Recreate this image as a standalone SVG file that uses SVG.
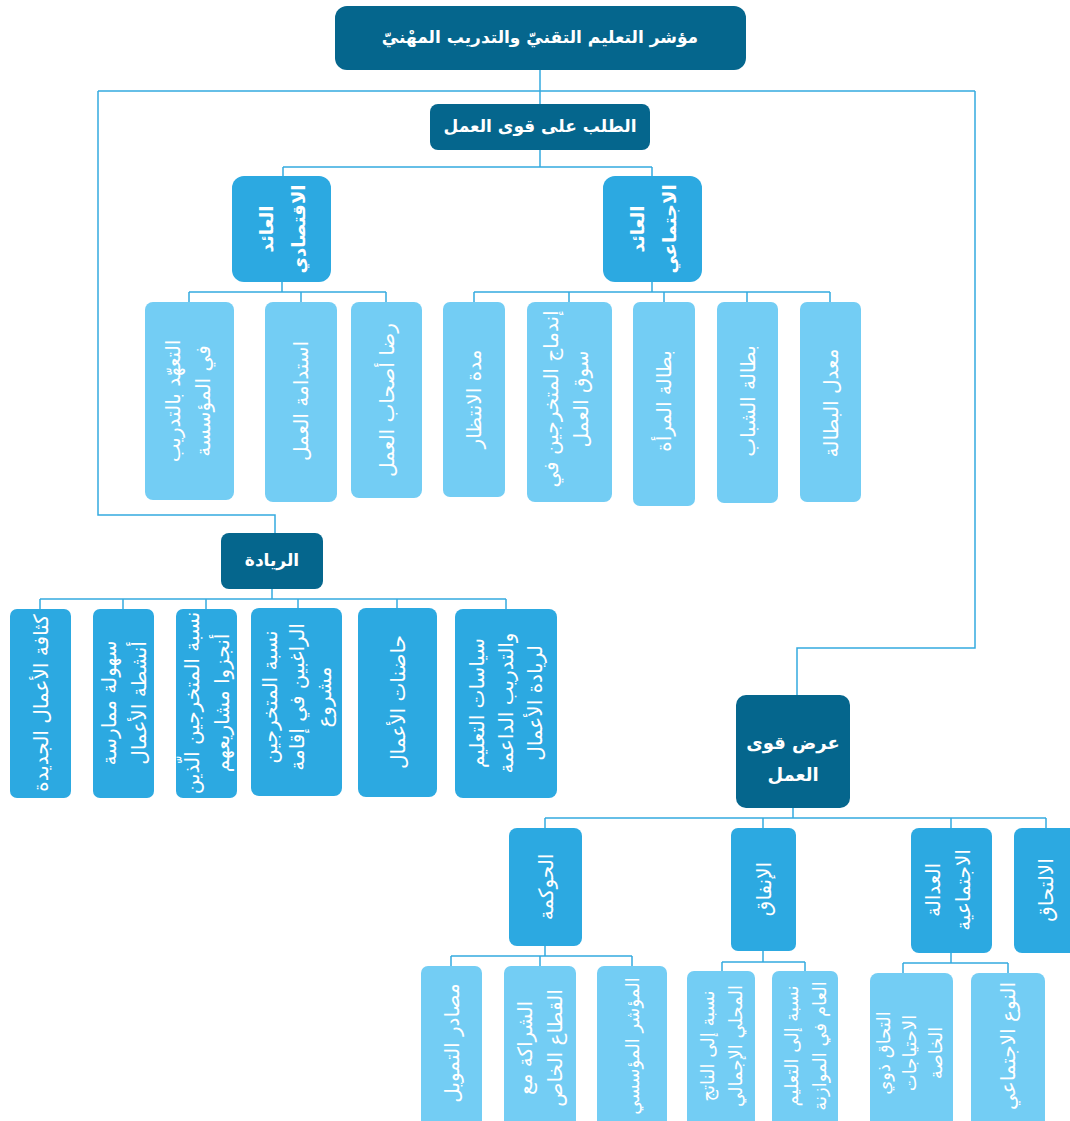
<svg xmlns="http://www.w3.org/2000/svg" width="1070" height="1121" viewBox="0 0 1070 1121">
<style>
.dark{fill:#05668d}
.mid{fill:#2ca9e1}
.light{fill:#73cdf4}
text{font-family:"DejaVu Sans",sans-serif;fill:#ffffff;text-anchor:middle;dominant-baseline:central}
.t{font-size:17px;font-weight:bold}
.t2{font-size:18px;font-weight:bold}
.s{font-size:20px}
.s2{font-size:18px}
.sb{font-size:18px;font-weight:bold}
.conn{fill:none;stroke:#35aadf;stroke-width:1.5}
</style>
<rect width="1070" height="1121" fill="#ffffff"/>
<g id="connectors" class="conn">
<path d="M540 70V104M98 91H975M98 91V515H275V533M975 91V648H797V695"/>
<path d="M540 150V167M283 167H652M283 167V176M652 167V176"/>
<path d="M282 282V292M189 292H386M189 292V302M301 292V302M386 292V302"/>
<path d="M652 282V292M474 292H830M474 292V302M569 292V302M664 292V302M747 292V302M830 292V302"/>
<path d="M272 589V599M40 599H506M40 599V609M123 599V609M206 599V609M298 599V609M397 599V609M506 599V609"/>
<path d="M793 808V818M545 818H1046M545 818V828M763 818V828M951 818V828M1046 818V828"/>
<path d="M545 946V956M451 956H632M451 956V966M540 956V966M632 956V966"/>
<path d="M763 951V962M722 962H805M722 962V971M805 962V971"/>
<path d="M951 953V963M903 963H1008M903 963V973M1008 963V973"/>
</g>
<g id="n-root"><rect class="dark" x="335" y="6" width="411" height="64" rx="12"/><text class="t" x="540" y="37">مؤشر التعليم التقنيّ والتدريب المهْنيّ</text></g>
<g id="n-demand"><rect class="dark" x="430" y="104" width="220" height="46" rx="8"/><text class="t" x="540" y="126">الطلب على قوى العمل</text></g>
<g id="n-econ"><rect class="mid" x="232" y="176" width="99" height="106" rx="12"/><text class="sb" transform="translate(281.5,229) rotate(-90)"><tspan x="0" dy="-16">العائد</tspan><tspan x="0" dy="32">الاقتصادي</tspan></text></g>
<g id="n-social"><rect class="mid" x="603" y="176" width="99" height="106" rx="12"/><text class="sb" transform="translate(652.5,229) rotate(-90)"><tspan x="0" dy="-16">العائد</tspan><tspan x="0" dy="32">الاجتماعي</tspan></text></g>
<g id="n-e1"><rect class="light" x="145" y="302" width="89" height="198" rx="8"/><text class="s" transform="translate(188,401) rotate(-90)"><tspan x="0" dy="-15">التعهّد بالتدريب</tspan><tspan x="0" dy="30">في المؤسسة</tspan></text></g>
<g id="n-e2"><rect class="light" x="265" y="302" width="72" height="200" rx="8"/><text class="s" transform="translate(301,401) rotate(-90)">استدامة العمل</text></g>
<g id="n-e3"><rect class="light" x="351" y="302" width="71" height="196" rx="8"/><text class="s" transform="translate(386.5,400) rotate(-90)">رضا أصحاب العمل</text></g>
<g id="n-s1"><rect class="light" x="443" y="302" width="62" height="195" rx="7"/><text class="s" transform="translate(474,399) rotate(-90)">مدة الانتظار</text></g>
<g id="n-s2"><rect class="light" x="527" y="302" width="85" height="200" rx="8"/><text class="s" transform="translate(566,399) rotate(-90)"><tspan x="0" dy="-15">إندماج المتخرجين في</tspan><tspan x="0" dy="30">سوق العمل</tspan></text></g>
<g id="n-s3"><rect class="light" x="633" y="302" width="62" height="204" rx="7"/><text class="s" transform="translate(664,401) rotate(-90)">بطالة المرأة</text></g>
<g id="n-s4"><rect class="light" x="717" y="302" width="61" height="201" rx="7"/><text class="s" transform="translate(747.5,401) rotate(-90)">بطالة الشباب</text></g>
<g id="n-s5"><rect class="light" x="800" y="302" width="61" height="200" rx="7"/><text class="s" transform="translate(830.5,403) rotate(-90)">معدل البطالة</text></g>
<g id="n-riyada"><rect class="dark" x="221" y="533" width="102" height="56" rx="8"/><text class="t" x="272" y="560">الريادة</text></g>
<g id="n-r1"><rect class="mid" x="10" y="609" width="61" height="189" rx="7"/><text class="s" transform="translate(40.5,703) rotate(-90)">كثافة الأعمال الجديدة</text></g>
<g id="n-r2"><rect class="mid" x="93" y="609" width="61" height="189" rx="7"/><text class="s" transform="translate(123.5,703) rotate(-90)"><tspan x="0" dy="-15">سهولة ممارسة</tspan><tspan x="0" dy="30">أنشطة الأعمال</tspan></text></g>
<g id="n-r3"><rect class="mid" x="176" y="609" width="61" height="189" rx="7"/><text class="s" transform="translate(206.5,703) rotate(-90)"><tspan x="0" dy="-15">نسبة المتخرجين الّذين</tspan><tspan x="0" dy="30">أنجزوا مشاريعهم</tspan></text></g>
<g id="n-r4"><rect class="mid" x="251" y="608" width="91" height="188" rx="8"/><text class="s" transform="translate(297,697) rotate(-90)"><tspan x="0" dy="-27">نسبة المتخرجين</tspan><tspan x="0" dy="27">الراغبين في إقامة</tspan><tspan x="0" dy="27">مشروع</tspan></text></g>
<g id="n-r5"><rect class="mid" x="358" y="608" width="79" height="189" rx="8"/><text class="s" transform="translate(397.5,702) rotate(-90)">حاضنات الأعمال</text></g>
<g id="n-r6"><rect class="mid" x="455" y="609" width="102" height="189" rx="8"/><text class="s" transform="translate(506,703) rotate(-90)"><tspan x="0" dy="-29">سياسات التعليم</tspan><tspan x="0" dy="29">والتدريب الداعمة</tspan><tspan x="0" dy="29">لريادة الأعمال</tspan></text></g>
<g id="n-supply"><rect class="dark" x="736" y="695" width="114" height="113" rx="10"/><text class="t2" x="793" y="742">عرض قوى</text><text class="t2" x="793" y="774">العمل</text></g>
<g id="n-gov"><rect class="mid" x="509" y="828" width="73" height="118" rx="8"/><text class="s" transform="translate(545.5,887) rotate(-90)">الحوكمة</text></g>
<g id="n-spend"><rect class="mid" x="731" y="828" width="65" height="123" rx="7"/><text class="s" transform="translate(763.5,889) rotate(-90)">الإنفاق</text></g>
<g id="n-justice"><rect class="mid" x="911" y="828" width="81" height="125" rx="8"/><text class="s" transform="translate(948,890) rotate(-90)"><tspan x="0" dy="-15">العدالة</tspan><tspan x="0" dy="30">الاجتماعية</tspan></text></g>
<g id="n-enrol"><rect class="mid" x="1014" y="828" width="66" height="125" rx="8"/><text class="s" transform="translate(1046,890) rotate(-90)">الالتحاق</text></g>
<g id="n-g1"><rect class="light" x="421" y="966" width="61" height="170" rx="7"/><text class="s" transform="translate(451.5,1043) rotate(-90)">مصادر التمويل</text></g>
<g id="n-g2"><rect class="light" x="504" y="966" width="72" height="170" rx="7"/><text class="s" transform="translate(540,1048) rotate(-90)"><tspan x="0" dy="-15">الشراكة مع</tspan><tspan x="0" dy="30">القطاع الخاص</tspan></text></g>
<g id="n-g3"><rect class="light" x="597" y="966" width="70" height="170" rx="7"/><text class="s2" transform="translate(632,1046) rotate(-90)">المؤشر المؤسسي</text></g>
<g id="n-p1"><rect class="light" x="687" y="971" width="68" height="165" rx="7"/><text class="s2" transform="translate(721,1046) rotate(-90)"><tspan x="0" dy="-14">نسبة إلى الناتج</tspan><tspan x="0" dy="28">المحلي الإجمالي</tspan></text></g>
<g id="n-p2"><rect class="light" x="772" y="971" width="66" height="165" rx="7"/><text class="s2" transform="translate(805,1046) rotate(-90)"><tspan x="0" dy="-14">نسبة إلى التعليم</tspan><tspan x="0" dy="28">العام في الموازنة</tspan></text></g>
<g id="n-j1"><rect class="light" x="870" y="973" width="83" height="163" rx="8"/><text class="s2" transform="translate(909,1053) rotate(-90)"><tspan x="0" dy="-26">التحاق ذوي</tspan><tspan x="0" dy="26">الاحتياجات</tspan><tspan x="0" dy="26">الخاصة</tspan></text></g>
<g id="n-j2"><rect class="light" x="971" y="973" width="74" height="163" rx="8"/><text class="s" transform="translate(1008,1046) rotate(-90)">النوع الاجتماعي</text></g>
</svg>
